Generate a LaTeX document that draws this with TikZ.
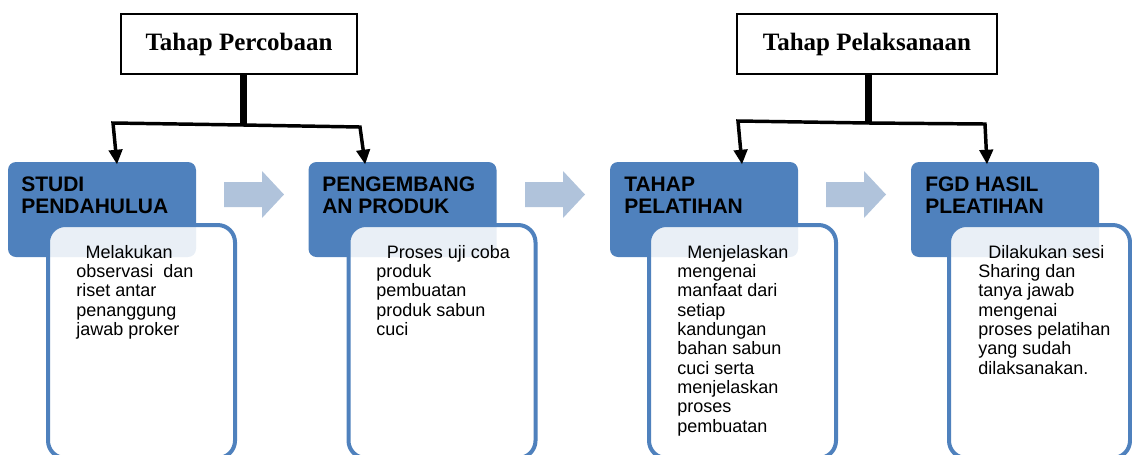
\documentclass[tikz,border=0pt]{standalone}
\usepackage{fontspec}
\setmainfont{Liberation Sans}
\newfontfamily\titlefont{Liberation Serif}
\usetikzlibrary{arrows.meta}
\definecolor{hdblue}{RGB}{79,129,189}
\definecolor{arblue}{RGB}{176,195,219}
\tikzset{
  titlebox/.style={draw, line width=1.2pt, fill=white, minimum height=45pt, inner sep=0pt, font=\titlefont\bfseries\fontsize{18.75pt}{20pt}\selectfont},
  headbox/.style={fill=hdblue, rounded corners=6pt, minimum width=141pt, minimum height=71.25pt, inner sep=0pt},
  bodybox/.style={draw=hdblue, line width=3pt, fill=white, fill opacity=0.88, rounded corners=13pt, minimum width=140.25pt, minimum height=174.75pt, inner sep=0pt},
  headtext/.style={anchor=north west, inner sep=0pt, align=left, font=\bfseries\fontsize{15.75pt}{16.3pt}\selectfont},
  bodytext/.style={anchor=north west, inner sep=0pt, align=left, font=\fontsize{13.5pt}{14.5pt}\selectfont},
  downarrow/.style={line width=2.6pt, -{Triangle[width=10pt,length=11pt]}}
}
\begin{document}
\begin{tikzpicture}[x=0.75pt, y=-0.75pt]
\useasboundingbox (0,0) rectangle (1132,454);
% judul
\node[titlebox, minimum width=177pt] (tp1) at (239,44) {Tahap Percobaan};
\node[titlebox, minimum width=195pt] (tp2) at (867,44) {Tahap Pelaksanaan};
% kolom 1
\node[headbox] (hd1) at (102,209.5) {};
\node[bodybox] (bx1) at (141.5,341.5) {};
\node[headtext] (ht1) at (21,177) {STUDI\\PENDAHULUA};
\node[bodytext] (bt1) at (76,245) {\hspace*{7pt}Melakukan\\observasi\ \ dan\\riset antar\\penanggung\\jawab proker};
% kolom 2
\node[headbox] (hd2) at (402.5,209.5) {};
\node[bodybox] (bx2) at (442,341.5) {};
\node[headtext] (ht2) at (322,177) {PENGEMBANG\\AN PRODUK};
\node[bodytext] (bt2) at (376,245) {\hspace*{8pt}Proses uji coba\\produk\\pembuatan\\produk sabun\\cuci};
% kolom 3
\node[headbox] (hd3) at (704,209.5) {};
\node[bodybox] (bx3) at (742.5,341.5) {};
\node[headtext] (ht3) at (624,177) {TAHAP\\PELATIHAN};
\node[bodytext] (bt3) at (677,245) {\hspace*{7.5pt}Menjelaskan\\mengenai\\manfaat dari\\setiap\\kandungan\\bahan sabun\\cuci serta\\menjelaskan\\proses\\pembuatan};
% kolom 4
\node[headbox] (hd4) at (1005,209.5) {};
\node[bodybox, minimum width=135.75pt] (bx4) at (1039.5,341.5) {};
\node[headtext] (ht4) at (925,177) {FGD HASIL\\PLEATIHAN};
\node[bodytext] (bt4) at (978,245) {\hspace*{7.5pt}Dilakukan sesi\\Sharing dan\\tanya jawab\\mengenai\\proses pelatihan\\yang sudah\\dilaksanakan.};
% panah antar kolom
\fill[arblue] (224,182) -- (262,182) -- (262,171) -- (284,194.5) -- (262,218) -- (262,207) -- (224,207) -- cycle;
\fill[arblue] (525,182) -- (563,182) -- (563,171) -- (585,194.5) -- (563,218) -- (563,207) -- (525,207) -- cycle;
\fill[arblue] (826,182) -- (864,182) -- (864,171) -- (886,194.5) -- (864,218) -- (864,207) -- (826,207) -- cycle;
% cabang tahap percobaan
\coordinate (j1) at (243,125);
\coordinate (l1) at (113,123);
\coordinate (r1) at (360,127);
\draw[line width=5.25pt] ([xshift=3pt]tp1.south) -- (j1);
\draw[downarrow] (j1) -- (l1) -- ([xshift=11.25pt,yshift=-2pt]hd1.north);
\draw[downarrow] (j1) -- (r1) -- ([xshift=-28pt,yshift=-2pt]hd2.north);
% cabang tahap pelaksanaan
\coordinate (j2) at (868,123);
\coordinate (l2) at (738,121);
\coordinate (r2) at (985,124);
\draw[line width=5.25pt] ([xshift=0.75pt]tp2.south) -- (j2);
\draw[downarrow] (j2) -- (l2) -- ([xshift=28.5pt,yshift=-2pt]hd3.north);
\draw[downarrow] (j2) -- (r2) -- ([xshift=-13.5pt,yshift=-2pt]hd4.north);
\end{tikzpicture}
\end{document}
